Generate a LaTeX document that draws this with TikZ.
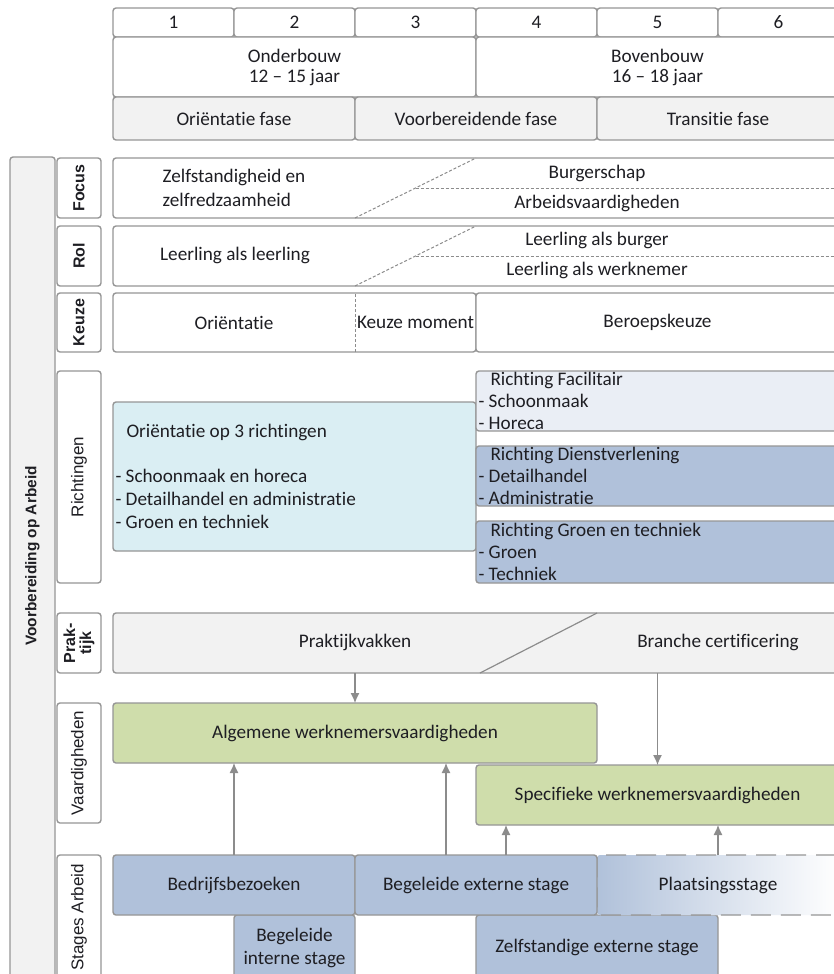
\documentclass[tikz,border=0pt]{standalone}
\usepackage{fontspec}
\setmainfont{Carlito}[Ligatures=NoCommon]
\newfontfamily\arialfont{Liberation Sans}
\usetikzlibrary{arrows.meta,calc}

\definecolor{boxline}{RGB}{150,150,150}
\definecolor{arrowgray}{RGB}{140,140,140}
\definecolor{textcol}{RGB}{30,30,35}
\definecolor{grayfill}{RGB}{242,242,242}
\definecolor{cyanfill}{RGB}{218,238,243}
\definecolor{facfill}{RGB}{234,238,245}
\definecolor{bluefill}{RGB}{176,193,218}
\definecolor{greenfill}{RGB}{207,221,171}

\begin{document}
\begin{tikzpicture}[
        x=0.5pt, y=-0.5pt, % one unit is one pixel of the original sketch
        every node/.style={inner sep=0pt, outer sep=0pt, text=textcol, font=\fontsize{9.6}{12}\selectfont},
        cell/.style={draw=boxline, line width=0.7pt, rounded corners=1.5pt, fill=white},
        graycell/.style={cell, fill=grayfill},
        lbl/.style={cell, rotate=90, font=\arialfont\fontsize{8.5}{9.5}\selectfont},
        lblbold/.style={lbl, font=\arialfont\bfseries\fontsize{8}{8.5}\selectfont},
        richting/.style={cell, text width=179pt, inner xsep=1.25pt, align=left, font=\fontsize{9.6}{11}\selectfont},
        dashline/.style={draw=arrowgray, line width=0.5pt, dash pattern=on 1.5pt off 1pt},
        arr/.style={draw=arrowgray, line width=0.6pt, -{Latex[length=5pt,width=4.5pt]}}
    ]
    \useasboundingbox (0,0) rectangle (834,974);
    \fill[white] (0,0) rectangle (834,974);
    \clip (0,0) rectangle (834,974);

    % leerjaren en fasen
    \foreach \n in {1,...,6}
        \node[cell, minimum width=60.5pt, minimum height=14.5pt] (jaar\n) at ({113+121*(\n-0.5)},22.5) {\n};
    \node[cell, minimum width=181.5pt, minimum height=30pt, align=center, font=\fontsize{9.6}{10}\selectfont] (onder) at (294.5,67) {Onderbouw\\12 – 15 jaar};
    \node[cell, minimum width=181.5pt, minimum height=30pt, align=center, font=\fontsize{9.6}{10}\selectfont] (boven) at (657.5,67) {Bovenbouw\\16 – 18 jaar};
    \node[graycell, minimum width=121pt, minimum height=21.5pt] (fase1) at (234,118.5) {Oriëntatie fase};
    \node[graycell, minimum width=121pt, minimum height=21.5pt] (fase2) at (476,118.5) {Voorbereidende fase};
    \node[graycell, minimum width=121pt, minimum height=21.5pt] (fase3) at (718,118.5) {Transitie fase};

    % zijbalk
    \node[graycell, minimum width=22.5pt, minimum height=421.5pt] (voa) at (32.5,578.5) {};
    \node[rotate=90, font=\arialfont\bfseries\fontsize{7.7}{9}\selectfont] (voatext) at (32.5,556) {Voorbereiding op Arbeid};
    \node[lblbold, minimum width=30pt, minimum height=22pt] (lfocus) at (79,188) {Focus};
    \node[lblbold, minimum width=30pt, minimum height=22pt] (lrol) at (79,256) {Rol};
    \node[lblbold, minimum width=29.5pt, minimum height=22pt] (lkeuze) at (79,322.5) {Keuze};
    \node[lbl, minimum width=106pt, minimum height=22pt] (lricht) at (79,477) {Richtingen};
    \node[lblbold, minimum width=30pt, minimum height=22pt, align=center, font=\arialfont\bfseries\fontsize{8}{8}\selectfont] (lprak) at (79,643) {Prak-\\tijk};
    \node[lbl, minimum width=60pt, minimum height=22pt] (lvaard) at (79,763) {Vaardigheden};
    \node[lbl, minimum width=62.5pt, minimum height=22pt] (lstage) at (79,917.5) {Stages Arbeid};

    % focus en rol
    \node[cell, minimum width=363pt, minimum height=30pt] (focus) at (476,188) {};
    \coordinate (f1) at ([xshift=121pt]focus.south west);
    \coordinate (f2) at ([xshift=181.5pt]focus.north west);
    \draw[dashline] (f1) -- (f2);
    \draw[dashline] ($(f1)!0.5!(f2)$) -- (focus.east);
    \node[align=left] (tzelf) at (234,188) {Zelfstandigheid en\\zelfredzaamheid};
    \node (tburger) at (597,173) {Burgerschap};
    \node (tarbeid) at (597,203) {Arbeidsvaardigheden};

    \node[cell, minimum width=363pt, minimum height=30pt] (rol) at (476,256) {};
    \coordinate (r1) at ([xshift=121pt]rol.south west);
    \coordinate (r2) at ([xshift=181.5pt]rol.north west);
    \draw[dashline] (r1) -- (r2);
    \draw[dashline] ($(r1)!0.5!(r2)$) -- (rol.east);
    \node (tleerling) at (235,255) {Leerling als leerling};
    \node (tlburger) at (597,240) {Leerling als burger};
    \node (tlwerk) at (597,270) {Leerling als werknemer};

    % keuze
    \node[cell, minimum width=181.5pt, minimum height=29.5pt] (keuzel) at (294.5,322.5) {};
    \draw[dashline] ([xshift=121pt]keuzel.south west) -- ([xshift=121pt]keuzel.north west);
    \node (torient) at (234,322.5) {Oriëntatie};
    \node (tmoment) at (415.5,322.5) {Keuze moment};
    \node[cell, minimum width=181.5pt, minimum height=29.5pt] (beroep) at (657.5,322.5) {Beroepskeuze};

    % richtingen
    \node[cell, fill=cyanfill, minimum width=181.5pt, minimum height=74.5pt, text width=179pt, inner xsep=1.25pt, align=left, font=\fontsize{9.6}{11.5}\selectfont] (orient3) at (294.5,476.5)
        {\spaceskip=0pt\relax\hspace{5.5pt}Oriëntatie op 3 richtingen\\[11pt]- Schoonmaak en horeca\\- Detailhandel en administratie\\- Groen en techniek};
    \node[richting, fill=facfill, minimum height=30pt] (facil) at (657.5,401) {\spaceskip=0pt\relax\hspace{6pt}Richting Facilitair\\- Schoonmaak\\- Horeca};
    \node[richting, fill=bluefill, minimum height=30pt] (dienst) at (657.5,476) {\spaceskip=0pt\relax\hspace{6pt}Richting Dienstverlening\\- Detailhandel\\- Administratie};
    \node[richting, fill=bluefill, minimum height=31pt] (groen) at (657.5,552) {\spaceskip=0pt\relax\hspace{6pt}Richting Groen en techniek\\- Groen\\- Techniek};

    % praktijk
    \node[graycell, minimum width=363pt, minimum height=30pt] (prak) at (476,643) {};
    \draw[draw=arrowgray, line width=0.6pt] ([xshift=183.5pt]prak.south west) -- ([xshift=242pt]prak.north west);
    \node (tprakv) at (355,642) {Praktijkvakken};
    \node (tbranche) at (718,642) {Branche certificering};

    % vaardigheden
    \node[cell, fill=greenfill, minimum width=242pt, minimum height=30pt] (alg) at (355,733) {Algemene werknemersvaardigheden};
    \node[cell, fill=greenfill, minimum width=181.5pt, minimum height=30pt] (spec) at (657.5,795) {Specifieke werknemersvaardigheden};

    % stages
    \node[cell, fill=bluefill, minimum width=60.5pt, minimum height=32.5pt, align=center, font=\fontsize{9.6}{11.5}\selectfont] (begint) at (294.5,947.5) {Begeleide\\interne stage};
    \node[cell, fill=bluefill, minimum width=121pt, minimum height=32.5pt] (zelfst) at (597,947.5) {Zelfstandige externe stage};
    \node[cell, left color=bluefill, right color=white, dash pattern=on 10pt off 5pt, minimum width=121pt, minimum height=30pt] (plaats) at (718,885) {Plaatsingsstage};
    \node[cell, fill=bluefill, minimum width=121pt, minimum height=30pt] (bedrijf) at (234,885) {Bedrijfsbezoeken};
    \node[cell, fill=bluefill, minimum width=121pt, minimum height=30pt] (begext) at (476,885) {Begeleide externe stage};

    % pijlen
    \draw[arr] (prak.south -| alg.north) -- (alg.north);
    \draw[arr] (prak.south -| spec.north) -- (spec.north);
    \draw[arr] (bedrijf.north) -- (bedrijf.north |- alg.south);
    \draw[arr] ([xshift=-15pt]begext.north) -- ([xshift=-15pt]begext.north |- alg.south);
    \draw[arr] ([xshift=15pt]begext.north) -- ([xshift=15pt]begext.north |- spec.south);
    \draw[arr] (plaats.north) -- (plaats.north |- spec.south);
\end{tikzpicture}
\end{document}
